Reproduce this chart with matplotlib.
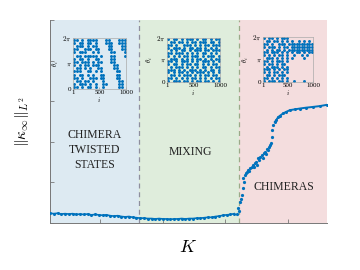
import numpy as np
import matplotlib
matplotlib.use("Agg")
import matplotlib.pyplot as plt

plt.rcParams['mathtext.fontset'] = 'cm'
plt.rcParams['font.family'] = ['Liberation Serif', 'DejaVu Serif']

# ---------------- data ----------------
K_flat = [0.00, 0.03, 0.06, 0.09, 0.12, 0.15, 0.18, 0.21, 0.24, 0.27,
          0.30, 0.33, 0.36, 0.39, 0.42, 0.45, 0.48, 0.51, 0.54, 0.57,
          0.60, 0.63, 0.66, 0.69, 0.72, 0.75, 0.78, 0.81, 0.84, 0.87,
          0.90, 0.93, 0.96, 0.99, 1.02, 1.05, 1.08, 1.11, 1.14, 1.17,
          1.20, 1.23, 1.26, 1.29, 1.32, 1.35, 1.38, 1.41, 1.44, 1.47]
kappa_flat = [0.24, 0.23, 0.24, 0.22, 0.23, 0.22, 0.23, 0.21, 0.22, 0.21,
              0.22, 0.20, 0.21, 0.20, 0.19, 0.20, 0.18, 0.17, 0.18, 0.16,
              0.15, 0.16, 0.14, 0.13, 0.12, 0.12, 0.11, 0.11, 0.10, 0.11,
              0.10, 0.10, 0.09, 0.10, 0.10, 0.11, 0.10, 0.11, 0.11, 0.12,
              0.12, 0.13, 0.14, 0.14, 0.16, 0.17, 0.19, 0.20, 0.21, 0.23]
K_trans = [1.489, 1.502, 1.507, 1.515, 1.520, 1.529, 1.537, 1.541, 1.547,
           1.555, 1.563, 1.571, 1.581, 1.591, 1.599, 1.608, 1.619, 1.627,
           1.635, 1.647, 1.655, 1.661, 1.671, 1.679, 1.688, 1.699, 1.706,
           1.714, 1.726, 1.734, 1.741, 1.746, 1.754, 1.761, 1.768, 1.774, 1.781]
kappa_trans = [0.22, 0.36, 0.30, 0.52, 0.60, 0.69, 0.85, 1.10, 1.02,
               1.18, 1.22, 1.26, 1.31, 1.27, 1.36, 1.39, 1.42, 1.37,
               1.47, 1.50, 1.44, 1.59, 1.55, 1.62, 1.67, 1.60, 1.72,
               1.75, 1.70, 1.82, 1.80, 1.87, 1.92, 1.98, 2.12, 2.30, 2.41]
K_sat = [1.794, 1.806, 1.821, 1.834, 1.860, 1.886, 1.914, 1.954, 1.994,
         2.041, 2.100, 2.153, 2.207]
kappa_sat = [2.49, 2.54, 2.61, 2.64, 2.70, 2.74, 2.78, 2.80, 2.82,
             2.84, 2.86, 2.88, 2.91]

K_bounds = [0.0, 0.712, 1.510, 2.21]
region_labels = ["CHIMERA\nTWISTED\nSTATES", "MIXING", "CHIMERAS"]
region_label_pos = [(0.359, 1.80), (1.116, 1.76), (1.866, 0.88)]

# inset occupancy maps (rows: theta from 2pi down to 0; cols: i from 1 to 1000)
inset_twisted = [
    "##.#.####...##...###",
    "#.##.##.#...###..###",
    ".###.#.##....##...##",
    "##..###.##...##...##",
    "#.###..#.#....##...#",
    ".##.#####.#...##...#",
    "#.##.#..##....##....",
    "##.###.#.##...##....",
    "#.#.##.###.....##...",
    ".##.#.#..##....##...",
    "###..##.#.#.....##..",
    "#.##.#.#..##....##..",
    "##.#..###.##....##..",
    ".##.##.#...#.....##.",
    "#.###.#.#..##....##.",
    "##.#.##.#..#.....##.",
]
inset_mixing = [
    "#.##.#.###.#.##.#.##",
    ".##.##.#.##.###.##.#",
    "##.#..###.#.#.##.###",
    "#.###.#.##.##.#.#.#.",
    ".#.#.##.#.###.##.###",
    "##.###.#.#.#.##.#.#.",
    "#.#.#.##.###.#.###.#",
    ".###.#.#.#.##.#.#.##",
    "##.#.###.#.#.###.#.#",
    "#.##.#.##.##.#.#.##.",
    ".#.###.#.#.#.##.#.##",
    "###.#.#.###.#.#.##.#",
    "#.#.##.#.#.###.#.#.#",
    ".##.#.###.#.#.##.##.",
    "##.#.#.#.##.#.#.#.##",
    "#.###.##.#.##.##.#.#",
]
inset_chimera = [
    "#.##.#.###..........",
    ".##.##.#.#.#..#.#.#.",
    "##.#..###.##########",
    "#.###.#.##.#########",
    ".#.#.##.#.##########",
    "##.###.#.#.#.##.#.##",
    "#.#.#.##.#..#..#.#..",
    ".###.#.#.#.#....#...",
    "##.#.###.#..........",
    "#.##.#.##...........",
    ".#.###.#.#..........",
    "###.#.#.##..........",
    "#.#.##.#.#..........",
    ".##.#.###...........",
    "##.#.#.#.#..........",
    "#.###.##.#..#...#...",
]
inset_maps = [inset_twisted, inset_mixing, inset_chimera]

blue = '#0072BD'
region_colors = ['#DDEAF2', '#DFEDDC', '#F4DDDE']
dash_colors = ['#8E8E9E', '#9AAA88']

# ---------------- figure ----------------
fig = plt.figure(figsize=(3.6, 2.7), dpi=100)
ax = fig.add_axes([50/360, 1-223/270, 277/360, 203/270])
ax.set_xlim(K_bounds[0], K_bounds[-1])
ax.set_ylim(0, 5)

for j in range(3):
    ax.axvspan(K_bounds[j], K_bounds[j+1], color=region_colors[j], lw=0, zorder=0)
for j in range(2):
    ax.axvline(K_bounds[j+1], color=dash_colors[j], ls=(0, (4, 3)), lw=0.9, zorder=1)

ax.plot(K_flat, kappa_flat, color=blue, lw=1.2, marker='.', ms=2.4, zorder=3)
ax.plot(K_trans, kappa_trans, color=blue, lw=0, marker='.', ms=2.6, zorder=3)
ax.plot(K_sat, kappa_sat, color=blue, lw=1.4, marker='.', ms=2.4, zorder=3)

for lab, (x, y) in zip(region_labels, region_label_pos):
    ax.text(x, y, lab, ha='center', va='center', fontsize=8.5, color='#222222',
            linespacing=1.3, zorder=4)

ax.set_xticks([0.4, 0.9, 1.4, 1.9])
ax.set_yticks([0, 1, 2, 3, 4, 5])
ax.set_xticklabels([])
ax.set_yticklabels([])
ax.tick_params(direction='in', length=3, width=0.6, color='#777777')
for s in ['top', 'right']:
    ax.spines[s].set_visible(False)
for s in ['left', 'bottom']:
    ax.spines[s].set_color('#777777')
    ax.spines[s].set_linewidth(0.7)

fig.text(22/360, 1-122/270, r'$\|\kappa_\infty\|_{L^2}$', rotation=90,
         ha='center', va='center', fontsize=11)
fig.text(188/360, 1-247/270, r'$K$', ha='center', va='center', fontsize=13)

# ---------------- insets ----------------
inset_rects = [
    [73/360, 1-89/270, 53/360, 51/270],
    [167/360, 1-82/270, 53/360, 44/270],
    [263/360, 1-82/270, 50/360, 45/270],
]
for rect, rows in zip(inset_rects, inset_maps):
    ia = fig.add_axes(rect)
    ia.patch.set_alpha(0)
    nr, nc = len(rows), len(rows[0])
    xs, ys = [], []
    for r, row in enumerate(rows):
        for c, ch in enumerate(row):
            if ch == '#':
                xs.append(1 + (c + 0.5) * 999 / nc)
                ys.append(2*np.pi * (1 - (r + 0.5) / nr))
    ia.scatter(xs, ys, s=4.5, marker='o', color=blue, lw=0)
    ia.set_xlim(1, 1000)
    ia.set_ylim(0, 2*np.pi)
    ia.set_xticks([1, 500, 1000])
    ia.set_xticklabels(['1', '500', '1000'])
    ia.set_yticks([0, np.pi, 2*np.pi])
    ia.set_yticklabels(['0', r'$\pi$', r'$2\pi$'])
    ia.tick_params(direction='in', length=1.5, width=0.4, labelsize=5,
                   pad=1, color='#888888')
    for s in ia.spines.values():
        s.set_color('#AAAAAA')
        s.set_linewidth(0.5)
    ia.set_xlabel(r'$i$', fontsize=5, labelpad=0)
    ia.set_ylabel(r'$\theta_i$', fontsize=5, labelpad=1)

fig.savefig('out.png', dpi=100)
